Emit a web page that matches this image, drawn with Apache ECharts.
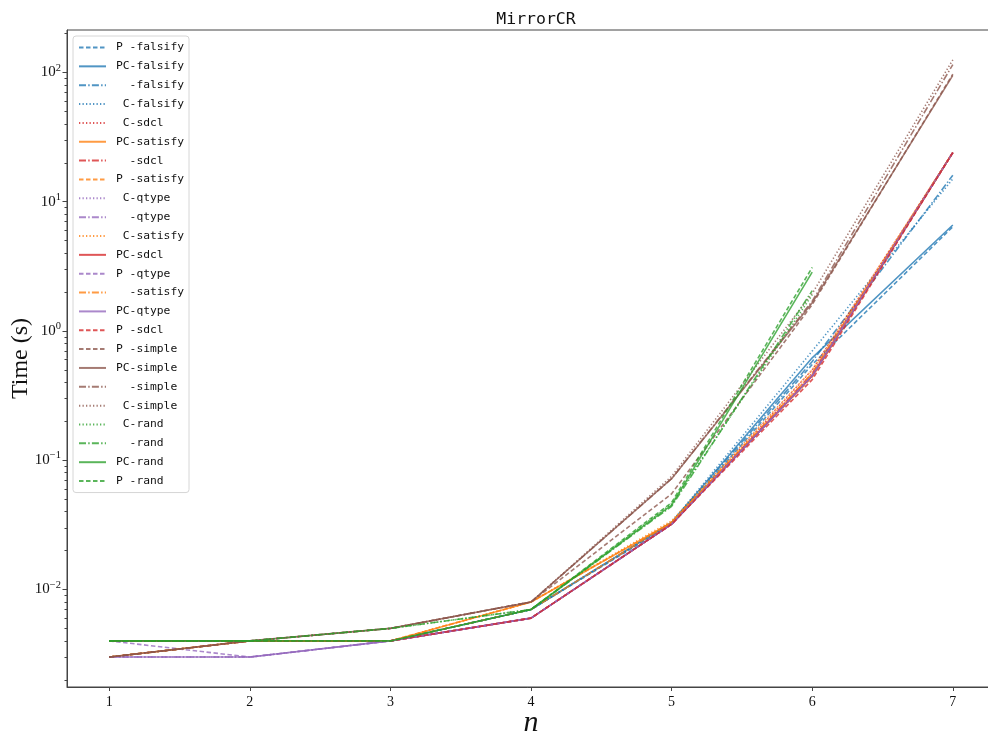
<!DOCTYPE html>
<html>
<head>
<meta charset="utf-8">
<script src="https://cdn.jsdelivr.net/npm/echarts@6/dist/echarts.min.js"></script>
<style>html,body{margin:0;padding:0;background:#fff}#c{width:988px;height:739px}</style>
</head>
<body>
<div id="c"></div>
<script>
// ---- data ----
const nValues = [1, 2, 3, 4, 5, 6, 7];
const xTickValues = [1, 2, 3, 4, 5, 6, 7];
const yTickValues = [0.01, 0.1, 1, 10, 100];
const yMinorTickValues = [
  0.002, 0.003, 0.004, 0.005, 0.006, 0.007, 0.008, 0.009,
  0.02, 0.03, 0.04, 0.05, 0.06, 0.07, 0.08, 0.09,
  0.2, 0.3, 0.4, 0.5, 0.6, 0.7, 0.8, 0.9,
  2, 3, 4, 5, 6, 7, 8, 9,
  20, 30, 40, 50, 60, 70, 80, 90, 200
];

const seriesNames = [
  "P -falsify", "PC-falsify", "  -falsify", " C-falsify", " C-sdcl", "PC-satisfy",
  "  -sdcl", "P -satisfy", " C-qtype", "  -qtype", " C-satisfy", "PC-sdcl",
  "P -qtype", "  -satisfy", "PC-qtype", "P -sdcl", "P -simple", "PC-simple",
  "  -simple", " C-simple", " C-rand", "  -rand", "PC-rand", "P -rand"
];

const P_falsify  = [0.004, 0.004, 0.004, 0.007, 0.032, 0.55, 6.4];
const PC_falsify = [0.004, 0.004, 0.004, 0.007, 0.033, 0.62, 6.6];
const X_falsify  = [0.004, 0.004, 0.004, 0.007, 0.033, 0.58, 16];
const C_falsify  = [0.004, 0.004, 0.004, 0.007, 0.033, 0.70, 15];
const C_sdcl     = [0.004, 0.004, 0.004, 0.006, 0.032, 0.50, 24];
const PC_satisfy = [0.003, 0.004, 0.004, 0.008, 0.033, 0.45, 24];
const X_sdcl     = [0.004, 0.004, 0.004, 0.006, 0.032, 0.47, 24];
const P_satisfy  = [0.003, 0.004, 0.004, 0.008, 0.033, 0.44, 24];
const C_qtype    = [0.003, 0.003, 0.004, 0.006, 0.032, 0.45, 24];
const X_qtype    = [0.003, 0.003, 0.004, 0.006, 0.032, 0.45, 24];
const C_satisfy  = [0.003, 0.004, 0.004, 0.008, 0.034, 0.50, 24];
const PC_sdcl    = [0.004, 0.004, 0.004, 0.006, 0.032, 0.45, 24];
const P_qtype    = [0.004, 0.003, 0.004, 0.006, 0.032, 0.45, 24];
const X_satisfy  = [0.003, 0.004, 0.004, 0.007, 0.033, 0.47, 24];
const PC_qtype   = [0.003, 0.003, 0.004, 0.006, 0.032, 0.45, 24];
const P_sdcl     = [0.004, 0.004, 0.004, 0.006, 0.032, 0.42, 24];
const P_simple   = [0.003, 0.004, 0.005, 0.008, 0.055, 1.6, 97];
const PC_simple  = [0.003, 0.004, 0.005, 0.008, 0.072, 1.65, 95];
const X_simple   = [0.003, 0.004, 0.005, 0.008, 0.072, 1.7, 115];
const C_simple   = [0.003, 0.004, 0.005, 0.008, 0.075, 1.95, 125];
const C_rand     = [0.004, 0.004, 0.005, 0.007, 0.046, 1.9];
const X_rand     = [0.004, 0.004, 0.005, 0.007, 0.044, 2.05];
const PC_rand    = [0.004, 0.004, 0.004, 0.007, 0.045, 2.85];
const P_rand     = [0.004, 0.004, 0.004, 0.007, 0.047, 3.1];

const seriesValues = [
  P_falsify, PC_falsify, X_falsify, C_falsify, C_sdcl, PC_satisfy,
  X_sdcl, P_satisfy, C_qtype, X_qtype, C_satisfy, PC_sdcl,
  P_qtype, X_satisfy, PC_qtype, P_sdcl, P_simple, PC_simple,
  X_simple, C_simple, C_rand, X_rand, PC_rand, P_rand
];

// ---- styles ----
const COL = {
  falsify: '#1f77b4', satisfy: '#ff7f0e', rand: '#2ca02c',
  sdcl: '#d62728', qtype: '#9467bd', simple: '#8c564b'
};
const DASH = {
  'P ': [4.5, 2.5],
  'PC': 'solid',
  '  ': [7, 2.2, 1.5, 2.2],
  ' C': [1.3, 2.2]
};

const series = seriesNames.map((name, i) => {
  const key = name.split('-')[1];
  const pre = name.substring(0, 2);
  return {
    name: name,
    type: 'line',
    symbol: 'none',
    showSymbol: false,
    animation: false,
    data: seriesValues[i].map((v, j) => [nValues[j], v]),
    lineStyle: { color: COL[key], width: 1.6, type: DASH[pre], opacity: 0.78 },
    itemStyle: { color: COL[key], opacity: 0.78 },
    emphasis: { disabled: true }
  };
});

const serif = 'Liberation Serif';
const chart = echarts.init(document.getElementById('c'), null, { renderer: 'canvas' });
chart.setOption({
  animation: false,
  backgroundColor: '#fff',
  title: {
    text: 'MirrorCR',
    left: 531, top: 6, textAlign: 'center',
    textStyle: { fontFamily: 'DejaVu Sans Mono', fontSize: 16.5, fontWeight: 'normal', color: '#111' }
  },
  grid: {
    left: 67, top: 30, width: 928, height: 657, containLabel: false, outerBoundsMode: 'none',
    show: true, borderColor: '#444', borderWidth: 1, backgroundColor: 'rgba(0,0,0,0)'
  },
  legend: {
    orient: 'vertical',
    left: 73, top: 36,
    padding: [6, 5, 6, 5],
    itemWidth: 27, itemHeight: 12, itemGap: 7.85,
    borderColor: '#d6d6d6', borderWidth: 1, borderRadius: 3,
    backgroundColor: 'rgba(255,255,255,0.85)',
    itemStyle: { color: 'rgba(0,0,0,0)', borderColor: 'rgba(0,0,0,0)', borderWidth: 0, opacity: 0 },
    textStyle: { fontFamily: 'DejaVu Sans Mono', fontSize: 11.3, color: '#111', padding: [0, 0, 0, 5] },
    data: seriesNames
  },
  xAxis: {
    type: 'value', min: 0.7, max: 7.3,
    name: 'n', nameLocation: 'middle', nameGap: 21, nameMoveOverlap: false,
    nameTextStyle: { fontFamily: serif, fontStyle: 'italic', fontSize: 30, color: '#111' },
    axisLine: { show: true, lineStyle: { color: '#444', width: 1 } },
    axisTick: { show: true, length: 4, customValues: xTickValues, lineStyle: { color: '#444' } },
    axisLabel: { customValues: xTickValues, fontFamily: serif, fontSize: 14, color: '#111', margin: 8 },
    splitLine: { show: false }
  },
  yAxis: [{
    type: 'log', logBase: 10, min: 0.00176, max: 213,
    name: 'Time (s)', nameLocation: 'middle', nameGap: 34, nameRotate: 90, nameMoveOverlap: false,
    nameTextStyle: { fontFamily: serif, fontSize: 24, color: '#111' },
    axisLine: { show: true, lineStyle: { color: '#444', width: 1 } },
    axisTick: { show: true, length: 4.5, customValues: yTickValues, lineStyle: { color: '#444' } },
    axisLabel: {
      customValues: yTickValues,
      fontFamily: serif, fontSize: 15, color: '#111', margin: 6,
      formatter: function (v) {
        const e = Math.round(Math.log10(v));
        return '10{sup|' + (e < 0 ? '\u2212' + (-e) : e) + '}';
      },
      rich: { sup: { fontFamily: serif, fontSize: 10.5, color: '#111', verticalAlign: 'bottom', padding: [0, 0, 9, 0] } }
    },
    splitLine: { show: false }
  }, {
    type: 'log', logBase: 10, min: 0.00176, max: 213, position: 'left',
    axisLine: { show: false },
    axisTick: { show: true, length: 2.5, customValues: yMinorTickValues, lineStyle: { color: '#444' } },
    axisLabel: { show: false },
    splitLine: { show: false }
  }],
  series: series
});
</script>
</body>
</html>
